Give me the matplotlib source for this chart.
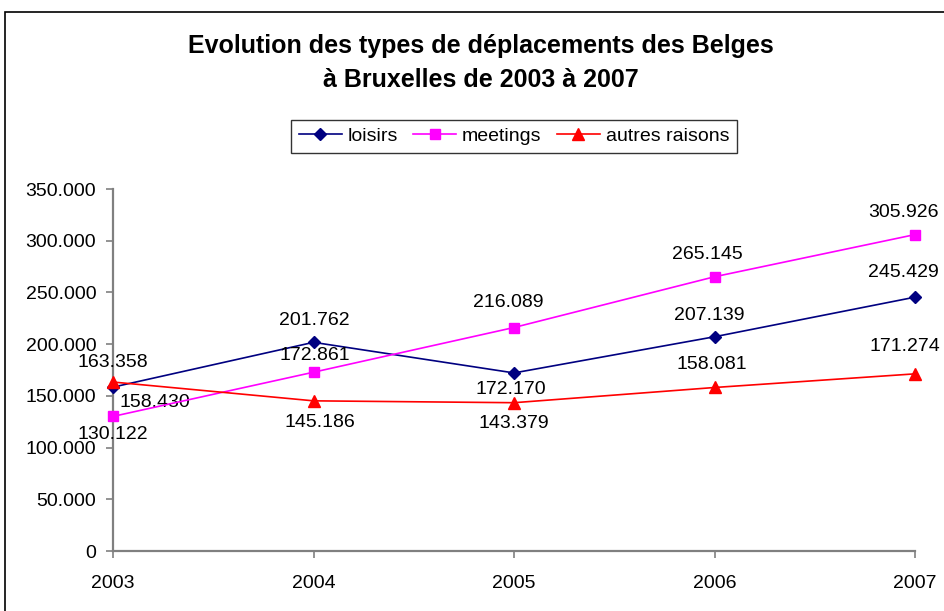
import matplotlib.pyplot as plt
from matplotlib.patches import Rectangle
from matplotlib.ticker import FuncFormatter

plt.rcParams['font.family'] = ['Liberation Sans', 'DejaVu Sans']

years = [2003, 2004, 2005, 2006, 2007]
loisirs = [158430, 201762, 172170, 207139, 245429]
meetings = [130122, 172861, 216089, 265145, 305926]
autres = [163358, 145186, 143379, 158081, 171274]

# label offsets in pixels (dx, dy), as Excel placed them
off_loisirs = [(42, -15), (1, 22), (-3, -17), (-5, 21), (-12, 25)]
off_meetings = [(0, -18), (1, 17), (-6, 25), (-7, 22), (-12, 22)]
off_autres = [(0, 20), (6, -22), (0, -21), (-3, 23), (-10, 27)]

def fmt(v):
    return f"{int(v):,}".replace(",", ".")

fig = plt.figure(figsize=(9.44, 6.11), dpi=100)
fig.patches.append(Rectangle((5 / 944, -0.1), 1.2, 1 - 12 / 611 + 0.1,
                             transform=fig.transFigure, fill=False,
                             edgecolor='black', linewidth=1.2))

ax = fig.add_axes([113 / 944, 60 / 611, (915 - 113) / 944, (551 - 189) / 611])

series = [
    ('loisirs', loisirs, '#000080', 'D', 6, off_loisirs),
    ('meetings', meetings, '#FF00FF', 's', 6.5, off_meetings),
    ('autres raisons', autres, '#FF0000', '^', 8, off_autres),
]
for name, vals, col, mk, ms, offs in series:
    ax.plot(years, vals, color=col, marker=mk, markersize=ms, linewidth=1.2,
            label=name, clip_on=False, zorder=3)
    for x, v, (dx, dy) in zip(years, vals, offs):
        ax.annotate(fmt(v), (x, v), xytext=(dx, dy), textcoords='offset pixels',
                    ha='center', va='center', fontsize=14, annotation_clip=False)

ax.set_xlim(2003, 2007)
ax.set_ylim(0, 350000)
ax.set_xticks(years)
ax.set_yticks(range(0, 350001, 50000))
ax.yaxis.set_major_formatter(FuncFormatter(lambda v, p: fmt(v)))
for s in ['top', 'right']:
    ax.spines[s].set_visible(False)
for s in ['left', 'bottom']:
    ax.spines[s].set_color('#808080')
    ax.spines[s].set_linewidth(1.6)
ax.tick_params(axis='both', direction='out', length=5, width=1.2,
               color='#808080', labelsize=14, labelcolor='black')
ax.tick_params(axis='x', pad=12)
ax.tick_params(axis='y', pad=7)
ax.patch.set_visible(False)

fig.text(481 / 944, 1 - 63 / 611,
         'Evolution des types de déplacements des Belges\nà Bruxelles de 2003 à 2007',
         ha='center', va='center', fontsize=18, fontweight='bold', linespacing=1.5)

leg = ax.legend(loc='center', bbox_to_anchor=(514 / 944, 1 - 136.5 / 611),
                bbox_transform=fig.transFigure, ncol=3, fontsize=14,
                frameon=True, fancybox=False, handlelength=2.2,
                columnspacing=0.8, handletextpad=0.3, borderpad=0.4)
leg.get_frame().set_edgecolor('black')
leg.get_frame().set_linewidth(1.0)

fig.savefig('out.png', dpi=100)
